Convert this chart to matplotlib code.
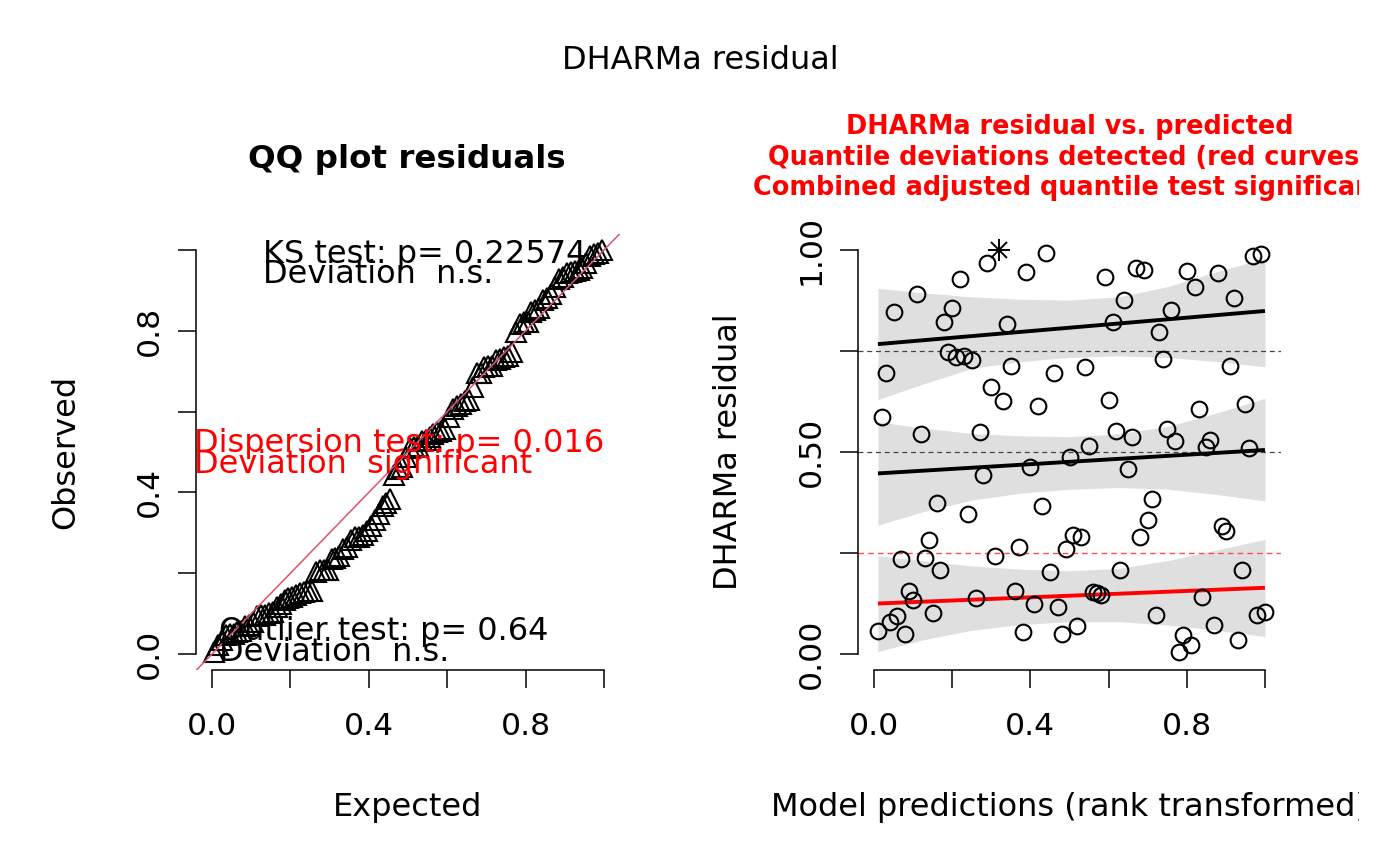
import matplotlib
matplotlib.use("Agg")
import matplotlib.pyplot as plt
import numpy as np
from matplotlib.transforms import Bbox, TransformedBbox

# scaled residuals, in order of the rank-transformed model predictions
residuals = [0.058, 0.587, 0.695, 0.080, 0.847, 0.094, 0.235, 0.050, 0.156, 0.134,
             0.891, 0.545, 0.237, 0.282, 0.101, 0.373, 0.208, 0.821, 0.748, 0.857,
             0.736, 0.929, 0.738, 0.347, 0.728, 0.138, 0.550, 0.444, 0.967, 0.660,
             0.243, 1.000, 0.626, 0.817, 0.713, 0.157, 0.264, 0.054, 0.946, 0.462,
             0.123, 0.615, 0.367, 0.992, 0.202, 0.695, 0.116, 0.049, 0.260, 0.487,
             0.295, 0.069, 0.289, 0.711, 0.515, 0.154, 0.150, 0.146, 0.934, 0.629,
             0.821, 0.552, 0.208, 0.876, 0.457, 0.538, 0.955, 0.290, 0.950, 0.332,
             0.384, 0.096, 0.798, 0.729, 0.556, 0.851, 0.528, 0.004, 0.047, 0.949,
             0.023, 0.909, 0.606, 0.142, 0.513, 0.530, 0.071, 0.942, 0.317, 0.305,
             0.714, 0.880, 0.035, 0.208, 0.619, 0.510, 0.985, 0.097, 0.989, 0.105]

# quantile regression fits
band_x = [0.01, 0.125, 0.25, 0.375, 0.5, 0.625, 0.75, 0.875, 1.0]
q75_lo = [0.630, 0.668, 0.707, 0.724, 0.734, 0.738, 0.734, 0.724, 0.711]
q75_hi = [0.905, 0.894, 0.884, 0.878, 0.876, 0.884, 0.909, 0.946, 0.979]
q50_lo = [0.319, 0.352, 0.381, 0.398, 0.408, 0.412, 0.408, 0.395, 0.379]
q50_hi = [0.575, 0.559, 0.546, 0.540, 0.538, 0.545, 0.563, 0.596, 0.633]
q25_lo = [0.006, 0.035, 0.059, 0.073, 0.080, 0.080, 0.072, 0.059, 0.043]
q25_hi = [0.243, 0.231, 0.218, 0.210, 0.206, 0.212, 0.231, 0.257, 0.284]
fit_x = [0.01, 1.0]
fit75 = [0.767, 0.849]
fit50 = [0.447, 0.505]
fit25 = [0.125, 0.164]

ks_text = ["KS test: p= 0.22574", "Deviation  n.s."]
disp_text = ["Dispersion test: p= 0.016", "Deviation  significant"]
out_text = ["Outlier test: p= 0.64", "Deviation  n.s."]
right_title = ["DHARMa residual vs. predicted",
               "Quantile deviations detected (red curves)",
               "Combined adjusted quantile test significant"]

W, H = 1400, 866
FS = 23.0
TICK_FS = 22.6
RCOL = "#DF536B"


def px(x, y):
    return x / W, 1 - y / H


def r_axes(ax, yticks, ylabels):
    ax.set_xlim(-0.04, 1.04)
    ax.set_ylim(-0.04, 1.04)
    for s in ["top", "right"]:
        ax.spines[s].set_visible(False)
    ax.spines["left"].set_bounds(0, 1)
    ax.spines["bottom"].set_bounds(0, 1)
    for s in ["left", "bottom"]:
        ax.spines[s].set_linewidth(1.1)
    ax.set_xticks([0, 0.2, 0.4, 0.6, 0.8, 1.0])
    ax.set_xticklabels(["0.0", "", "0.4", "", "0.8", ""])
    ax.set_yticks(yticks)
    ax.set_yticklabels(ylabels, rotation=90, va="center")
    ax.tick_params(length=13, width=1.1, labelsize=TICK_FS)
    ax.tick_params(axis="x", pad=17)
    ax.tick_params(axis="y", pad=10.5)
    ax.patch.set_visible(False)


fig = plt.figure(figsize=(14, 8.66), dpi=100)
bottom = (H - 670.2) / H
height = 436.4 / H
ax1 = fig.add_axes([196.3 / W, bottom, 423.4 / W, height])
ax2 = fig.add_axes([858.4 / W, bottom, 422.2 / W, height])

res = np.array(residuals)
n = len(res)

# QQ plot
observed = np.sort(res)
expected = (np.arange(1, n + 1) - 0.5) / n
ax1.plot(expected, observed, linestyle="none", marker="^", ms=14,
         mfc="none", mec="black", mew=1.5)
ax1.axline((0, 0), slope=1, color=RCOL, lw=1.1)
r_axes(ax1, [0, 0.2, 0.4, 0.6, 0.8, 1.0], ["0.0", "", "0.4", "", "0.8", ""])
for txt, y in zip(ks_text, [0.967, 0.918]):
    ax1.text(0.13, y, txt, fontsize=FS, va="baseline", clip_on=False)
for txt, y in zip(disp_text, [0.501, 0.449]):
    ax1.text(-0.045, y, txt, fontsize=FS, color="red", va="baseline", clip_on=False)
for txt, y in zip(out_text, [0.035, -0.017]):
    ax1.text(0.017, y, txt, fontsize=FS, va="baseline", clip_on=False)

# residual vs predicted
pred = np.arange(1, n + 1) / n
for lo, hi in [(q75_lo, q75_hi), (q50_lo, q50_hi), (q25_lo, q25_hi)]:
    ax2.fill_between(band_x, lo, hi, color="black", alpha=0.125, lw=0)
ax2.axhline(0.25, color="#ff4a4a", lw=1.0, ls=(0, (4, 3)))
ax2.axhline(0.5, color="#444444", lw=0.9, ls=(0, (4, 3)))
ax2.axhline(0.75, color="#444444", lw=0.9, ls=(0, (4, 3)))
ax2.plot(fit_x, fit75, color="black", lw=2.8, solid_capstyle="butt")
ax2.plot(fit_x, fit50, color="black", lw=2.8, solid_capstyle="butt")
ax2.plot(fit_x, fit25, color="red", lw=2.8, solid_capstyle="butt")
outl = (res >= 1.0) | (res <= 0.0)
ax2.plot(pred[~outl], res[~outl], linestyle="none", marker="o", ms=11.3,
         mfc="none", mec="black", mew=1.5)
ax2.plot(pred[outl], res[outl], linestyle="none", marker="+", ms=16,
         mec="black", mew=1.4)
ax2.plot(pred[outl], res[outl], linestyle="none", marker="x", ms=11.5,
         mec="black", mew=1.4)
r_axes(ax2, [0, 0.25, 0.5, 0.75, 1.0], ["0.00", "", "0.50", "", "1.00"])

# titles and labels
clip = TransformedBbox(Bbox([[0, 0], [1359 / W, 1]]), fig.transFigure)
fig.text(*px(700, 69), "DHARMa residual", fontsize=FS, ha="center", va="baseline")
fig.text(*px(407, 168), "QQ plot residuals", fontsize=23.4, fontweight="bold",
         ha="center", va="baseline")
for txt, yb in zip(right_title, [134.5, 164.8, 195.1]):
    t = fig.text(*px(1069.5, yb), txt, fontsize=18.4, fontweight="bold",
                 color="red", ha="center", va="baseline")
    t.set_clip_box(clip)
    t.set_clip_on(True)
fig.text(*px(408, 816), "Expected", fontsize=FS, ha="center", va="baseline")
t = fig.text(*px(1069.5, 816), "Model predictions (rank transformed)", fontsize=FS,
             ha="center", va="baseline")
t.set_clip_box(clip)
t.set_clip_on(True)
fig.text(*px(74, 452), "Observed", fontsize=FS, rotation=90, rotation_mode="anchor",
         ha="center", va="baseline")
fig.text(*px(737, 452), "DHARMa residual", fontsize=FS, rotation=90,
         rotation_mode="anchor", ha="center", va="baseline")

fig.savefig("out.png", dpi=100)
